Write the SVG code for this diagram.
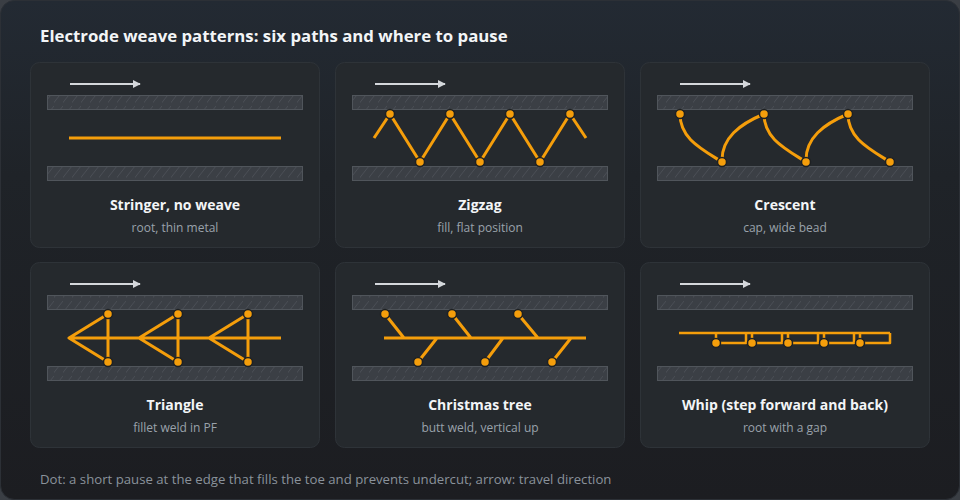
<svg xmlns="http://www.w3.org/2000/svg" width="960" height="500" viewBox="0 0 960 500">
  <defs>
    <linearGradient id="bg" x1="0" y1="0" x2="0" y2="1">
      <stop offset="0" stop-color="#232a33"/>
      <stop offset="0.35" stop-color="#1f2328"/>
      <stop offset="1" stop-color="#1c1d21"/>
    </linearGradient>
    <pattern id="hatch" patternUnits="userSpaceOnUse" width="9" height="15">
      <rect width="9" height="15" fill="#3b3f45"/>
      <line x1="-2" y1="15" x2="9" y2="1" stroke="#4a4e55" stroke-width="1"/>
    </pattern>
    <marker id="arr" viewBox="0 0 10 10" refX="9" refY="5" markerWidth="8" markerHeight="8" markerUnits="userSpaceOnUse" orient="auto">
      <path d="M0,0 L10,5 L0,10 z" fill="#d4d7db"/>
    </marker>
    <style>
      .card { fill: #25292d; stroke: #2e3338; stroke-width: 1; }
      .bar { fill: url(#hatch); stroke: #50555b; stroke-width: 1; }
      .dir { stroke: #d4d7db; stroke-width: 2; fill: none; }
      .path { stroke: #f59e0b; stroke-width: 3; fill: none; stroke-linejoin: round; stroke-linecap: butt; }
      .dot { fill: #f59e0b; stroke: #1e2124; stroke-width: 1.5; }
      .ttl { font-family: "Open Sans", "Liberation Sans", sans-serif; font-weight: 700; font-size: 14px; fill: #f3f5f7; text-anchor: middle; }
      .sub { font-family: "Open Sans", "Liberation Sans", sans-serif; font-size: 12px; fill: #9aa2ab; text-anchor: middle; }
    </style>
  </defs>

  <rect x="0" y="0" width="960" height="500" fill="#3a3e44"/>
  <rect x="0.5" y="0.5" width="959" height="499" rx="14" fill="url(#bg)" stroke="#2c3036"/>

  <text x="40" y="42" font-family="Open Sans, Liberation Sans, sans-serif" font-weight="700" font-size="16.8" fill="#f3f5f7">Electrode weave patterns: six paths and where to pause</text>

  <g id="card-stringer">
    <rect class="card" x="30.5" y="62.5" width="289" height="185" rx="9"/>
    <line class="dir" x1="70" y1="84" x2="140" y2="84" marker-end="url(#arr)"/>
    <rect class="bar" x="47.5" y="95.5" width="255" height="14"/>
    <rect class="bar" x="47.5" y="166.5" width="255" height="14"/>
    <line class="path" x1="69" y1="138" x2="281" y2="138"/>
    <text class="ttl" x="175" y="210">Stringer, no weave</text>
    <text class="sub" x="175" y="232">root, thin metal</text>
  </g>

  <g id="card-zigzag">
    <rect class="card" x="335.5" y="62.5" width="289" height="185" rx="9"/>
    <line class="dir" x1="375" y1="84" x2="445" y2="84" marker-end="url(#arr)"/>
    <rect class="bar" x="352.5" y="95.5" width="255" height="14"/>
    <rect class="bar" x="352.5" y="166.5" width="255" height="14"/>
    <path class="path" d="M374,138 L390,114 L420,162 L450,114 L480,162 L510,114 L540,162 L570,114 L586,138"/>
    <circle class="dot" cx="390" cy="114" r="4.5"/>
    <circle class="dot" cx="450" cy="114" r="4.5"/>
    <circle class="dot" cx="510" cy="114" r="4.5"/>
    <circle class="dot" cx="570" cy="114" r="4.5"/>
    <circle class="dot" cx="420" cy="162" r="4.5"/>
    <circle class="dot" cx="480" cy="162" r="4.5"/>
    <circle class="dot" cx="540" cy="162" r="4.5"/>
    <text class="ttl" x="480" y="210">Zigzag</text>
    <text class="sub" x="480" y="232">fill, flat position</text>
  </g>

  <g id="card-crescent">
    <rect class="card" x="640.5" y="62.5" width="289" height="185" rx="9"/>
    <line class="dir" x1="680" y1="84" x2="750" y2="84" marker-end="url(#arr)"/>
    <rect class="bar" x="657.5" y="95.5" width="255" height="14"/>
    <rect class="bar" x="657.5" y="166.5" width="255" height="14"/>
    <path class="path" d="M680,114 C680,138 700,148 722,162 C721,138 740,124 764,114 C764,138 784,148 806,162 C805,138 824,124 848,114 C848,138 868,148 890,162"/>
    <circle class="dot" cx="680" cy="114" r="4.5"/>
    <circle class="dot" cx="764" cy="114" r="4.5"/>
    <circle class="dot" cx="848" cy="114" r="4.5"/>
    <circle class="dot" cx="722" cy="162" r="4.5"/>
    <circle class="dot" cx="806" cy="162" r="4.5"/>
    <circle class="dot" cx="890" cy="162" r="4.5"/>
    <text class="ttl" x="785" y="210">Crescent</text>
    <text class="sub" x="785" y="232">cap, wide bead</text>
  </g>

  <g id="card-triangle">
    <rect class="card" x="30.5" y="262.5" width="289" height="185" rx="9"/>
    <line class="dir" x1="70" y1="284" x2="140" y2="284" marker-end="url(#arr)"/>
    <rect class="bar" x="47.5" y="295.5" width="255" height="14"/>
    <rect class="bar" x="47.5" y="366.5" width="255" height="14"/>
    <path class="path" d="M69,338 H281 M108,314 L69,338 L108,362 Z M178,314 L139,338 L178,362 Z M248,314 L209,338 L248,362 Z"/>
    <circle class="dot" cx="108" cy="314" r="4.5"/>
    <circle class="dot" cx="178" cy="314" r="4.5"/>
    <circle class="dot" cx="248" cy="314" r="4.5"/>
    <circle class="dot" cx="108" cy="362" r="4.5"/>
    <circle class="dot" cx="178" cy="362" r="4.5"/>
    <circle class="dot" cx="248" cy="362" r="4.5"/>
    <text class="ttl" x="175" y="410">Triangle</text>
    <text class="sub" x="175" y="432">fillet weld in PF</text>
  </g>

  <g id="card-christmas">
    <rect class="card" x="335.5" y="262.5" width="289" height="185" rx="9"/>
    <line class="dir" x1="375" y1="284" x2="445" y2="284" marker-end="url(#arr)"/>
    <rect class="bar" x="352.5" y="295.5" width="255" height="14"/>
    <rect class="bar" x="352.5" y="366.5" width="255" height="14"/>
    <path class="path" d="M384,338 H586 M385,314 L404,338 M452,314 L471,338 M518,314 L538,338 M437,338 L418,362 M503,338 L485,362 M571,338 L552,362"/>
    <circle class="dot" cx="385" cy="314" r="4.5"/>
    <circle class="dot" cx="452" cy="314" r="4.5"/>
    <circle class="dot" cx="518" cy="314" r="4.5"/>
    <circle class="dot" cx="418" cy="362" r="4.5"/>
    <circle class="dot" cx="485" cy="362" r="4.5"/>
    <circle class="dot" cx="552" cy="362" r="4.5"/>
    <text class="ttl" x="480" y="410">Christmas tree</text>
    <text class="sub" x="480" y="432">butt weld, vertical up</text>
  </g>

  <g id="card-whip">
    <rect class="card" x="640.5" y="262.5" width="289" height="185" rx="9"/>
    <line class="dir" x1="680" y1="284" x2="750" y2="284" marker-end="url(#arr)"/>
    <rect class="bar" x="657.5" y="295.5" width="255" height="14"/>
    <rect class="bar" x="657.5" y="366.5" width="255" height="14"/>
    <path class="path" style="stroke-width:2.5" d="M679,333 H890 M716,333 V343 H746 V333 M752,333 V343 H782 V333 M788,333 V343 H818 V333 M824,333 V343 H854 V333 M860,333 V343 H890 V333"/>
    <circle class="dot" cx="716" cy="343" r="4.5"/>
    <circle class="dot" cx="752" cy="343" r="4.5"/>
    <circle class="dot" cx="788" cy="343" r="4.5"/>
    <circle class="dot" cx="824" cy="343" r="4.5"/>
    <circle class="dot" cx="860" cy="343" r="4.5"/>
    <text class="ttl" x="785" y="410">Whip (step forward and back)</text>
    <text class="sub" x="785" y="432">root with a gap</text>
  </g>

  <text x="40" y="484" font-family="Open Sans, Liberation Sans, sans-serif" font-size="13.2" fill="#8a929b">Dot: a short pause at the edge that fills the toe and prevents undercut; arrow: travel direction</text>
</svg>
